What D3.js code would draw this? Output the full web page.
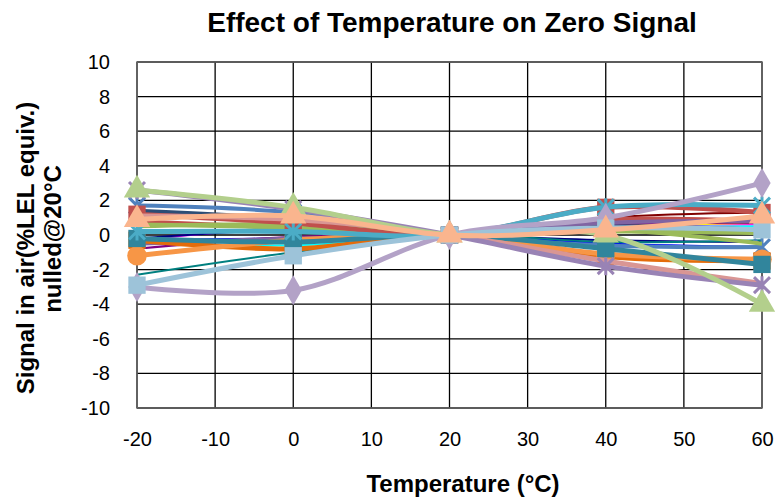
<!DOCTYPE html>
<html>
<head>
<meta charset="utf-8">
<script src="https://cdn.jsdelivr.net/npm/d3@7/dist/d3.min.js"></script>
<style>
  body { margin: 0; background: #fff; }
  text { font-family: "Liberation Sans", Arial, sans-serif; }
</style>
</head>
<body>
<div id="chart"></div>
<script>
// temperatures (x)
var temps = [-20, 0, 20, 40, 60];
var xTicks = [-20, -10, 0, 10, 20, 30, 40, 50, 60];
var yTicks = [-10, -8, -6, -4, -2, 0, 2, 4, 6, 8, 10];

// one array per sensor, nulled at 20 C
var sBlue      = [1.7, 1.3, 0, -0.6, -0.7];
var sRed       = [1.2, 0.7, 0, 1.6, 1.3];
var sGreen     = [0.5, 0.6, 0, 0.3, -0.5];
var sPurple    = [2.6, 1.5, 0, -1.8, -2.9];
var sAqua      = [0.2, 0.2, 0, 1.6, 1.7];
var sOrange    = [-1.2, -0.3, 0, -1.1, -1.4];
var sDkBlue    = [1.4, 0.9, 0, 0.5, 0.3];
var sDkRed     = [0.8, 0.4, 0, 0.9, 0.8];
var sOlive     = [0.6, 0.4, 0, 0.2, 0.1];
var sDkPurple  = [-0.5, -0.2, 0, 0.7, 0.8];
var sDkTeal    = [-0.2, -0.4, 0, -0.8, -1.7];
var sDkOrange  = [-0.3, -0.8, 0, -1.25, -1.5];
var sLtBlue    = [-2.9, -1.2, 0, 0.4, 0.3];
var sLavender  = [-3.0, -3.2, 0, 1.0, 3.0];
var sLtGreen   = [2.6, 1.6, 0, 0.0, -4.0];
var sPeach     = [0.9, 1.1, 0, 0.3, 1.1];
var sPink      = [1.1, 0.9, 0, -1.5, -2.8];
var sMagenta   = [-0.3, 0.4, 0, 0.5, 0.6];
var sCyan      = [-0.4, -0.6, 0, 0.4, 0.5];
var sNavy      = [-0.2, 0.3, 0, -0.3, -0.4];
var sBrBlue    = [-0.3, -0.2, 0, -0.5, -0.7];
var sTeal      = [-2.3, -1.0, 0, -0.4, -0.3];
var sMaroon    = [1.3, 0.8, 0, 1.0, 1.3];
var sYellow    = [0.5, 0.6, 0, 0.5, 0.7];
var sViolet    = [-0.8, -0.1, 0, 0.6, 0.7];

var series = [
  {v: sMagenta, c: "#FF00FF", w: 2, m: null},
  {v: sCyan, c: "#00FFFF", w: 2, m: null},
  {v: sNavy, c: "#000080", w: 2, m: null},
  {v: sBrBlue, c: "#0000FF", w: 2.5, m: null},
  {v: sTeal, c: "#008080", w: 2, m: null},
  {v: sMaroon, c: "#800000", w: 2, m: null},
  {v: sYellow, c: "#FFFF00", w: 2, m: null},
  {v: sViolet, c: "#800080", w: 2, m: null},
  {v: sDkBlue, c: "#2C4D75", w: 4, m: null},
  {v: sDkRed, c: "#C0504D", w: 4, m: null},
  {v: sOlive, c: "#9BBB59", w: 4, m: null},
  {v: sDkPurple, c: "#8064A2", w: 4, m: null},
  {v: sBlue, c: "#4F81BD", w: 4, m: "x"},
  {v: sGreen, c: "#9BBB59", w: 4, m: null},
  {v: sDkOrange, c: "#E46C0A", w: 5, m: "square"},
  {v: sOrange, c: "#F79646", w: 5, m: "circle"},
  {v: sDkTeal, c: "#31859C", w: 5, m: "square"},
  {v: sRed, c: "#C0504D", w: 5, m: "square"},
  {v: sPink, c: "#D99694", w: 5, m: null},
  {v: sPurple, c: "#9983B5", w: 5, m: "x"},
  {v: sAqua, c: "#4BACC6", w: 5, m: "x"},
  {v: sLtGreen, c: "#B3CF8C", w: 5, m: "triangle"},
  {v: sLavender, c: "#B3A2C7", w: 5, m: "diamond"},
  {v: sLtBlue, c: "#9DC3D9", w: 5, m: "square"},
  {v: sPeach, c: "#FAB58E", w: 5, m: "triangle"}
];

var W = 780, H = 500;
var margin = {top: 62, right: 18, bottom: 92, left: 137};
var width = W - margin.left - margin.right,
    height = H - margin.top - margin.bottom;

var svg = d3.select("#chart").append("svg")
    .attr("width", W)
    .attr("height", H);

var g = svg.append("g")
    .attr("transform", "translate(" + margin.left + "," + margin.top + ")");

var x = d3.scaleLinear().domain([-20, 60]).range([0, width]);
var y = d3.scaleLinear().domain([-10, 10]).range([height, 0]);

// grid
g.selectAll(".vgrid").data(xTicks).enter().append("line")
    .attr("x1", function (d) { return x(d); })
    .attr("x2", function (d) { return x(d); })
    .attr("y1", 0).attr("y2", height)
    .attr("stroke", "#000").attr("stroke-width", 1.3);
g.selectAll(".hgrid").data(yTicks).enter().append("line")
    .attr("x1", 0).attr("x2", width)
    .attr("y1", function (d) { return y(d); })
    .attr("y2", function (d) { return y(d); })
    .attr("stroke", "#000").attr("stroke-width", 1.3);
g.append("rect")
    .attr("width", width).attr("height", height)
    .attr("fill", "none").attr("stroke", "#666").attr("stroke-width", 1.5);

// axes (labels only), plain hyphen for negatives like the original
var fmt = function (d) { return String(d); };
var xAxis = g.append("g")
    .attr("transform", "translate(0," + height + ")")
    .call(d3.axisBottom(x).tickValues(xTicks).tickSize(0).tickPadding(24).tickFormat(fmt));
var yAxis = g.append("g")
    .call(d3.axisLeft(y).tickValues(yTicks).tickSize(0).tickPadding(27).tickFormat(fmt));
[xAxis, yAxis].forEach(function (a) {
    a.select(".domain").remove();
    a.selectAll("text")
        .style("font-family", "'Liberation Sans', Arial, sans-serif")
        .style("font-size", "20px")
        .attr("fill", "#000");
});

var line = d3.line()
    .x(function (d, i) { return x(temps[i]); })
    .y(function (d) { return y(d); })
    .curve(d3.curveCatmullRom.alpha(0.5));

var plot = g.append("g");

series.forEach(function (s) {
    plot.append("path")
        .datum(s.v)
        .attr("d", line)
        .attr("fill", "none")
        .attr("stroke", s.c)
        .attr("stroke-width", s.w)
        .attr("stroke-linejoin", "round");

    if (!s.m) return;
    var pts = plot.selectAll(null).data(s.v).enter().append("g")
        .attr("transform", function (d, i) { return "translate(" + x(temps[i]) + "," + y(d) + ")"; });
    if (s.m === "x") {
        pts.append("path")
            .attr("d", "M-8,-8L8,8M-8,8L8,-8M0,-9L0,9")
            .attr("stroke", s.c).attr("stroke-width", 3).attr("fill", "none");
    } else {
        var type = {square: d3.symbolSquare, triangle: d3.symbolTriangle,
                    circle: d3.symbolCircle, diamond: d3.symbolDiamond}[s.m];
        pts.append("path")
            .attr("d", d3.symbol().type(type).size(s.m === "diamond" ? 260 : 300))
            .attr("fill", s.c);
    }
});

// titles
svg.append("text")
    .attr("x", 452).attr("y", 32)
    .attr("text-anchor", "middle")
    .style("font-size", "28px").style("font-weight", "bold")
    .text("Effect of Temperature on Zero Signal");

svg.append("text")
    .attr("x", 463).attr("y", 492)
    .attr("text-anchor", "middle")
    .style("font-size", "24px").style("font-weight", "bold")
    .text("Temperature (\u00B0C)");

svg.append("text")
    .attr("transform", "translate(34,248) rotate(-90)")
    .attr("text-anchor", "middle")
    .style("font-size", "24px").style("font-weight", "bold")
    .text("Signal in air(%LEL equiv.)");
svg.append("text")
    .attr("transform", "translate(61,239) rotate(-90)")
    .attr("text-anchor", "middle")
    .style("font-size", "24px").style("font-weight", "bold")
    .text("nulled@20\u00B0C");
</script>
</body>
</html>
